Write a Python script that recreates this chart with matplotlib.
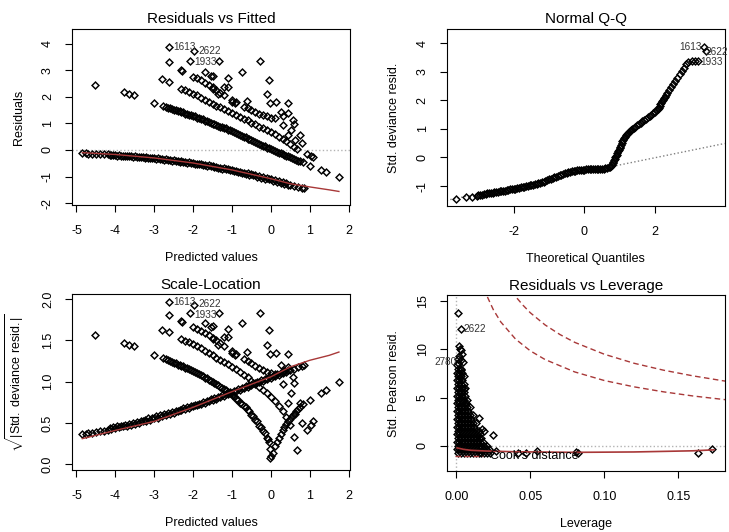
import matplotlib
matplotlib.use('Agg')
import matplotlib.pyplot as plt

plt.rcParams['font.family'] = ['Liberation Sans', 'DejaVu Sans']
plt.rcParams['mathtext.fontset'] = 'custom'
plt.rcParams['mathtext.rm'] = 'Liberation Sans'
plt.rcParams['mathtext.it'] = 'Liberation Sans:italic'
plt.rcParams['mathtext.bf'] = 'Liberation Sans:bold'

# ---------------- Residuals vs Fitted ----------------
rvf_band0 = [(-4.85,-0.13),(-4.75,-0.13),(-4.7,-0.14),(-4.6,-0.14),(-4.5,-0.15),(-4.4,-0.16),(-4.3,-0.16),
             (-4.2,-0.17),(-4.1,-0.18),(-4.0,-0.19),(-3.9,-0.2),(-3.8,-0.21),(-3.7,-0.22),(-3.6,-0.23),
             (-3.5,-0.24),(-3.4,-0.25),(-3.3,-0.27),(-3.2,-0.28),(-3.1,-0.29),(-3.0,-0.31),(-2.9,-0.32),
             (-2.8,-0.34),(-2.7,-0.35),(-2.6,-0.37),(-2.5,-0.39),(-2.4,-0.41),(-2.3,-0.43),(-2.2,-0.45),
             (-2.1,-0.47),(-2.0,-0.49),(-1.9,-0.51),(-1.8,-0.53),(-1.7,-0.56),(-1.6,-0.58),(-1.5,-0.61),
             (-1.4,-0.63),(-1.3,-0.66),(-1.2,-0.69),(-1.1,-0.72),(-1.0,-0.75),(-0.9,-0.78),(-0.8,-0.81),
             (-0.7,-0.85),(-0.6,-0.88),(-0.5,-0.92),(-0.4,-0.95),(-0.3,-0.99),(-0.2,-1.03),(-0.1,-1.07),
             (0.0,-1.1),(0.1,-1.14),(0.2,-1.18),(0.3,-1.22),(0.4,-1.26),(0.5,-1.3),(0.6,-1.34),(0.7,-1.38),
             (0.8,-1.42),(0.85,-1.44)]
rvf_band0b = [(-4.15,-0.19),(-4.05,-0.2),(-3.95,-0.21),(-3.85,-0.22),(-3.75,-0.23),(-3.65,-0.24),(-3.55,-0.25),
              (-3.45,-0.26),(-3.35,-0.28),(-3.25,-0.29),(-3.15,-0.31),(-3.05,-0.32),(-2.95,-0.34),(-2.85,-0.35),
              (-2.75,-0.37),(-2.65,-0.38),(-2.55,-0.4),(-2.45,-0.42),(-2.35,-0.44),(-2.25,-0.46),(-2.15,-0.48),
              (-2.05,-0.5),(-1.95,-0.52),(-1.85,-0.54),(-1.75,-0.57),(-1.65,-0.59),(-1.55,-0.62),(-1.45,-0.64),
              (-1.35,-0.67),(-1.25,-0.7),(-1.15,-0.73),(-1.05,-0.76),(-0.95,-0.79),(-0.85,-0.82),(-0.75,-0.86),
              (-0.65,-0.89),(-0.55,-0.93),(-0.45,-0.96),(-0.35,-1.0),(-0.25,-1.04),(-0.15,-1.08),(-0.05,-1.11),
              (0.05,-1.15),(0.15,-1.19),(0.25,-1.23),(0.35,-1.27),(0.45,-1.31)]
rvf_band1 = [(-2.78,1.65),(-2.7,1.62),(-2.65,1.59),(-2.55,1.55),(-2.45,1.5),(-2.35,1.45),(-2.25,1.41),
             (-2.15,1.36),(-2.05,1.31),(-1.95,1.26),(-1.85,1.2),(-1.75,1.15),(-1.65,1.09),(-1.55,1.03),
             (-1.45,0.98),(-1.35,0.92),(-1.25,0.86),(-1.15,0.81),(-1.05,0.75),(-0.95,0.68),(-0.85,0.61),
             (-0.75,0.54),(-0.65,0.48),(-0.55,0.41),(-0.45,0.34),(-0.35,0.27),(-0.25,0.2),(-0.15,0.14),
             (-0.05,0.07),(0.05,0.0),(0.15,-0.06),(0.25,-0.12),(0.35,-0.18),(0.45,-0.24),(0.55,-0.3),
             (0.65,-0.36),(0.75,-0.41),(0.83,-0.46)]
rvf_band1b = [(-2.6,1.56),(-2.5,1.51),(-2.4,1.46),(-2.3,1.42),(-2.2,1.37),(-2.1,1.32),(-2.0,1.27),(-1.9,1.22),
              (-1.8,1.16),(-1.7,1.1),(-1.6,1.05),(-1.5,0.99),(-1.4,0.94),(-1.3,0.88),(-1.2,0.82),(-1.1,0.76),
              (-1.0,0.7),(-0.9,0.63),(-0.8,0.56),(-0.7,0.5),(-0.6,0.43),(-0.5,0.36),(-0.4,0.29),(-0.3,0.22),
              (-0.2,0.16),(-0.1,0.09),(0.0,0.02),(0.1,-0.04),(0.2,-0.1),(0.3,-0.16),(0.4,-0.22),(0.5,-0.28),
              (0.6,-0.34),(0.7,-0.4)]
rvf_band2 = [(-2.3,2.31),(-2.2,2.24),(-2.1,2.18),(-2.0,2.12),(-1.9,2.05),(-1.8,1.97),(-1.7,1.89),(-1.6,1.81),
             (-1.5,1.74),(-1.4,1.67),(-1.3,1.61),(-1.2,1.54),(-1.1,1.47),(-1.0,1.4),(-0.9,1.33),(-0.8,1.25),
             (-0.7,1.18),(-0.6,1.11),(-0.5,1.03),(-0.4,0.96),(-0.3,0.88),(-0.2,0.81),(-0.1,0.74),(0.0,0.66),
             (0.1,0.59),(0.2,0.5),(0.3,0.42),(0.4,0.33),(0.5,0.23),(0.6,0.11),(0.66,0.03)]
rvf_band3 = [(-2.32,3.01),(-2.28,2.98),(-2.0,2.76),(-1.9,2.7),(-1.8,2.62),(-1.7,2.53),(-1.6,2.44),(-1.5,2.35),
             (-1.4,2.25),(-1.3,2.16),(-1.2,2.07),(-1.0,1.89),(-0.9,1.8),(-0.7,1.63),(-0.6,1.56),(-0.5,1.5),
             (-0.4,1.43),(-0.3,1.37),(-0.2,1.31),(-0.1,1.26),(0.0,1.22),(0.1,1.19)]
rvf_other = [(-4.53,2.45),(-3.78,2.17),(-3.65,2.1),(-3.53,2.07),(-3.0,1.77),(-2.62,3.89),(-1.97,3.72),
             (-2.08,3.34),(-2.62,3.29),(-2.79,2.66),(-2.62,2.56),(-1.69,2.94),(-1.5,2.79),(-1.55,2.78),
             (-1.33,3.35),(-0.28,3.35),(-0.75,2.94),(-1.09,2.69),(-1.2,2.38),(-1.35,2.1),(-1.48,2.31),
             (-1.11,2.37),(-0.05,2.64),(-0.11,2.1),(-0.03,1.78),(0.14,1.81),(0.44,1.78),(-0.62,1.85),
             (-0.99,1.81),(-0.92,1.76),(0.27,1.44),(0.44,1.4),(0.32,1.27),(0.57,1.12),(0.6,0.97),(0.32,0.94),
             (0.74,0.56),(0.53,0.75),(0.44,0.56),(0.62,0.37),(0.79,0.25),(0.92,-0.17),(1.04,-0.22),
             (1.08,-0.25),(1.0,-0.6),(1.3,-0.75),(1.43,-0.81),(1.75,-1.0)]
rvf_smooth_x = [-4.85, -4.0, -3.0, -2.0, -1.0, 0.0, 0.5, 1.0, 1.5, 1.75]
rvf_smooth_y = [-0.1, -0.17, -0.3, -0.49, -0.75, -1.08, -1.27, -1.39, -1.5, -1.56]
rvf_labels = [("1613", -2.62, 3.89), ("2622", -1.97, 3.74), ("1933", -2.08, 3.32)]

# ---------------- Normal Q-Q ----------------
qq_points = [(-3.65,-1.46),(-3.34,-1.39),(-3.19,-1.38),(-3.05,-1.35),(-2.95,-1.31),(-2.85,-1.28),(-2.75,-1.26),
             (-2.65,-1.24),(-2.55,-1.22),(-2.45,-1.2),(-2.35,-1.18),(-2.25,-1.16),(-2.15,-1.13),(-2.05,-1.11),
             (-1.95,-1.09),(-1.85,-1.06),(-1.75,-1.04),(-1.65,-1.01),(-1.55,-0.98),(-1.45,-0.95),(-1.35,-0.92),
             (-1.25,-0.89),(-1.15,-0.85),(-1.05,-0.79),(-0.95,-0.74),(-0.85,-0.69),(-0.75,-0.65),(-0.65,-0.6),
             (-0.55,-0.56),(-0.45,-0.52),(-0.35,-0.49),(-0.25,-0.46),(-0.15,-0.44),(-0.05,-0.43),(0.05,-0.42),
             (0.15,-0.41),(0.25,-0.41),(0.35,-0.4),(0.45,-0.4),(0.55,-0.39),(0.65,-0.37),(0.72,-0.32),
             (0.78,-0.25),(0.82,-0.16),(0.86,-0.05),(0.9,0.05),(0.94,0.16),(0.98,0.27),(1.02,0.38),(1.06,0.5),
             (1.1,0.62),(1.15,0.73),(1.2,0.82),(1.26,0.9),(1.32,0.95),(1.4,1.02),(1.5,1.12),(1.6,1.21),
             (1.7,1.31),(1.8,1.41),(1.9,1.5),(2.0,1.6),(2.08,1.7),(2.14,1.8),(2.18,1.92),(2.22,2.02),
             (2.28,2.12),(2.34,2.25),(2.4,2.36),(2.46,2.46),(2.52,2.57),(2.58,2.68),(2.64,2.79),(2.7,2.91),
             (2.76,3.02),(2.82,3.14),(2.88,3.26),(2.94,3.36),(3.04,3.37),(3.13,3.37),(3.23,3.37),
             (3.39,3.86),(3.45,3.74)]
qq_points_b = [(-3.0,-1.33),(-2.9,-1.3),(-2.8,-1.27),(-2.7,-1.25),(-2.6,-1.23),(-2.5,-1.21),(-2.4,-1.19),
               (-2.3,-1.17),(-2.2,-1.15),(-2.1,-1.12),(-2.0,-1.1),(-1.9,-1.08),(-1.8,-1.05),(-1.7,-1.03),
               (-1.6,-1.0),(-1.5,-0.97),(-1.4,-0.94),(-1.3,-0.91),(-1.2,-0.87),(-1.1,-0.82),(-1.0,-0.77),
               (-0.9,-0.72),(-0.8,-0.67),(-0.7,-0.63),(-0.6,-0.58),(-0.5,-0.54),(-0.4,-0.5),(-0.3,-0.48),
               (-0.2,-0.45),(-0.1,-0.44),(0.0,-0.43),(0.1,-0.42),(0.2,-0.41),(0.3,-0.41),(0.4,-0.4),(0.5,-0.4),
               (0.6,-0.38),(0.69,-0.35),(0.75,-0.29),(0.8,-0.2),(0.84,-0.1),(0.88,0.0),(0.92,0.1),(0.96,0.22),
               (1.0,0.33),(1.04,0.44),(1.08,0.56),(1.12,0.68),(1.18,0.78),(1.23,0.86),(1.29,0.93),(1.36,0.98),
               (1.45,1.07),(1.55,1.16),(1.65,1.26),(1.75,1.36),(1.85,1.45),(1.95,1.55),(2.04,1.65),(2.11,1.75),
               (2.16,1.86),(2.2,1.97),(2.25,2.07),(2.31,2.18)]
qq_line_x = [-3.9, 3.98]
qq_line_y = [-1.5, 0.49]

# ---------------- Scale-Location ----------------
sl_band0 = [(-4.85,0.361),(-4.75,0.361),(-4.7,0.374),(-4.6,0.374),(-4.5,0.387),(-4.4,0.4),(-4.3,0.4),
            (-4.2,0.412),(-4.1,0.424),(-4.0,0.436),(-3.9,0.447),(-3.8,0.458),(-3.7,0.469),(-3.6,0.48),
            (-3.5,0.49),(-3.4,0.5),(-3.3,0.52),(-3.2,0.529),(-3.1,0.539),(-3.0,0.557),(-2.9,0.566),
            (-2.8,0.583),(-2.7,0.592),(-2.6,0.608),(-2.5,0.624),(-2.4,0.64),(-2.3,0.656),(-2.2,0.671),
            (-2.1,0.686),(-2.0,0.7),(-1.9,0.714),(-1.8,0.728),(-1.7,0.748),(-1.6,0.762),(-1.5,0.781),
            (-1.4,0.794),(-1.3,0.812),(-1.2,0.831),(-1.1,0.849),(-1.0,0.866),(-0.9,0.883),(-0.8,0.9),
            (-0.7,0.922),(-0.6,0.938),(-0.5,0.959),(-0.4,0.975),(-0.3,0.995),(-0.2,1.015),(-0.1,1.034),
            (0.0,1.049),(0.1,1.068),(0.2,1.086),(0.3,1.105),(0.4,1.122),(0.5,1.14),(0.6,1.158),
            (0.7,1.175),(0.8,1.192),(0.85,1.2)]
sl_band0b = [(-4.15,0.436),(-4.05,0.447),(-3.95,0.458),(-3.85,0.469),(-3.75,0.48),(-3.65,0.49),(-3.55,0.5),
             (-3.45,0.51),(-3.35,0.529),(-3.25,0.539),(-3.15,0.557),(-3.05,0.566),(-2.95,0.583),(-2.85,0.592),
             (-2.75,0.608),(-2.65,0.616),(-2.55,0.632),(-2.45,0.648),(-2.35,0.663),(-2.25,0.678),(-2.15,0.693),
             (-2.05,0.707),(-1.95,0.721),(-1.85,0.735),(-1.75,0.755),(-1.65,0.768),(-1.55,0.787),(-1.45,0.8),
             (-1.35,0.819),(-1.25,0.837),(-1.15,0.854),(-1.05,0.872),(-0.95,0.889),(-0.85,0.906),(-0.75,0.927),
             (-0.65,0.943),(-0.55,0.964),(-0.45,0.98),(-0.35,1.0),(-0.25,1.02),(-0.15,1.039),(-0.05,1.054),
             (0.05,1.072),(0.15,1.091),(0.25,1.109),(0.35,1.127),(0.45,1.145)]
sl_band1 = [(-2.78,1.285),(-2.7,1.273),(-2.65,1.261),(-2.55,1.245),(-2.45,1.225),(-2.35,1.204),(-2.25,1.187),
            (-2.15,1.166),(-2.05,1.145),(-1.95,1.122),(-1.85,1.095),(-1.75,1.072),(-1.65,1.044),(-1.55,1.015),
            (-1.45,0.99),(-1.35,0.959),(-1.25,0.927),(-1.15,0.9),(-1.05,0.866),(-0.95,0.825),(-0.85,0.781),
            (-0.75,0.735),(-0.65,0.693),(-0.55,0.64),(-0.45,0.583),(-0.35,0.52),(-0.25,0.447),(-0.15,0.374),
            (-0.1,0.32),(-0.05,0.265),(-0.02,0.18),(-0.03,0.07),(0.0,0.1),(0.05,0.14),(0.1,0.22),(0.15,0.27),
            (0.25,0.37),(0.35,0.45),(0.45,0.52),(0.55,0.58),(0.65,0.64),(0.75,0.69),(0.83,0.73)]
sl_band1b = [(-2.6,1.249),(-2.5,1.229),(-2.4,1.208),(-2.3,1.192),(-2.2,1.17),(-2.1,1.149),(-2.0,1.127),
             (-1.9,1.105),(-1.8,1.077),(-1.7,1.049),(-1.6,1.025),(-1.5,0.995),(-1.4,0.97),(-1.3,0.938),
             (-1.2,0.906),(-1.1,0.872),(-1.0,0.837),(-0.9,0.794),(-0.8,0.748),(-0.7,0.707),(-0.6,0.656),
             (-0.5,0.6),(-0.4,0.539),(-0.3,0.469),(-0.2,0.4),(-0.08,0.3),(0.2,0.32),(0.3,0.41),(0.4,0.49),
             (0.5,0.55),(0.6,0.61),(0.7,0.67)]
sl_band2 = [(-2.3,1.52),(-2.2,1.497),(-2.1,1.476),(-2.0,1.456),(-1.9,1.432),(-1.8,1.404),(-1.7,1.375),
            (-1.6,1.345),(-1.5,1.319),(-1.4,1.292),(-1.3,1.269),(-1.2,1.241),(-1.1,1.212),(-1.0,1.183),
            (-0.9,1.153),(-0.8,1.118),(-0.7,1.086),(-0.6,1.054),(-0.5,1.015),(-0.4,0.98),(-0.3,0.938),
            (-0.2,0.9),(-0.1,0.86),(0.0,0.812),(0.1,0.768),(0.2,0.707),(0.3,0.648),(0.4,0.574),(0.5,0.48),
            (0.6,0.332),(0.66,0.173)]
sl_band3 = [(-2.32,1.735),(-2.28,1.726),(-2.0,1.661),(-1.9,1.643),(-1.8,1.619),(-1.7,1.591),(-1.6,1.562),
            (-1.5,1.533),(-1.4,1.5),(-1.3,1.47),(-1.2,1.439),(-1.0,1.375),(-0.9,1.342),(-0.7,1.277),
            (-0.6,1.249),(-0.5,1.225),(-0.4,1.196),(-0.3,1.17),(-0.2,1.145),(-0.1,1.122),(0.0,1.105),(0.1,1.091)]
sl_other = [(-4.53,1.565),(-3.78,1.473),(-3.65,1.449),(-3.53,1.439),(-3.0,1.33),(-2.62,1.972),(-1.97,1.929),
            (-2.08,1.828),(-2.62,1.814),(-2.79,1.631),(-2.62,1.6),(-1.69,1.715),(-1.5,1.67),(-1.55,1.667),
            (-1.33,1.83),(-0.28,1.83),(-0.75,1.715),(-1.09,1.64),(-1.2,1.543),(-1.35,1.449),(-1.48,1.52),
            (-1.11,1.54),(-0.05,1.625),(-0.11,1.449),(-0.03,1.334),(0.14,1.345),(0.44,1.334),(-0.62,1.36),
            (-0.99,1.345),(-0.92,1.327),(0.27,1.2),(0.44,1.183),(0.32,1.127),(0.57,1.058),(0.6,0.985),
            (0.32,0.97),(0.74,0.748),(0.53,0.866),(0.44,0.748),(0.62,0.608),(0.79,0.5),(0.92,0.42),
            (1.04,0.48),(1.08,0.52),(1.0,0.775),(1.3,0.866),(1.43,0.9),(1.75,1.0)]
sl_smooth_x = [-4.85, -4.0, -3.0, -2.0, -1.0, 0.0, 0.5, 1.0, 1.5, 1.75]
sl_smooth_y = [0.31, 0.41, 0.52, 0.69, 0.88, 1.06, 1.18, 1.26, 1.32, 1.36]
sl_labels = [("1613", -2.62, 1.972), ("2622", -1.97, 1.945), ("1933", -2.08, 1.81)]

# ---------------- Residuals vs Leverage ----------------
lev_rows = [
    (8.0, [0.001, 0.003]),
    (7.6, [0.0005, 0.002, 0.004]),
    (7.2, [0.001, 0.003, 0.005]),
    (6.8, [0.0005, 0.002, 0.004]),
    (6.4, [0.001, 0.003, 0.005]),
    (6.0, [0.0005, 0.002, 0.004, 0.006]),
    (5.6, [0.001, 0.003, 0.005]),
    (5.2, [0.0005, 0.002, 0.004, 0.006]),
    (4.8, [0.001, 0.003, 0.005, 0.007]),
    (4.4, [0.0005, 0.002, 0.004, 0.006]),
    (4.0, [0.001, 0.003, 0.005, 0.007, 0.009]),
    (3.6, [0.0005, 0.002, 0.004, 0.006, 0.008]),
    (3.2, [0.001, 0.003, 0.005, 0.007, 0.009, 0.011]),
    (2.8, [0.0005, 0.002, 0.004, 0.006, 0.008, 0.010]),
    (2.4, [0.001, 0.003, 0.005, 0.007, 0.009, 0.011, 0.013]),
    (2.0, [0.0005, 0.002, 0.004, 0.006, 0.008, 0.010, 0.012]),
    (1.6, [0.001, 0.003, 0.005, 0.007, 0.009, 0.011, 0.013, 0.015]),
    (1.2, [0.0005, 0.002, 0.004, 0.006, 0.008, 0.010, 0.012, 0.014, 0.016]),
    (0.8, [0.001, 0.003, 0.005, 0.007, 0.009, 0.011, 0.013, 0.015, 0.017]),
    (0.4, [0.0005, 0.002, 0.004, 0.006, 0.008, 0.010, 0.012, 0.014, 0.016, 0.018]),
    (0.0, [0.001, 0.003, 0.005, 0.007, 0.009, 0.011, 0.013, 0.015, 0.017, 0.019, 0.021]),
    (-0.35, [0.0005, 0.002, 0.004, 0.006, 0.008, 0.010, 0.012, 0.014, 0.016, 0.018, 0.020, 0.022]),
    (-0.7, [0.001, 0.003, 0.005, 0.007, 0.009, 0.011, 0.013, 0.015, 0.017, 0.019, 0.021, 0.023]),
]
lev_other = [(0.0011,13.8),(0.003,12.13),(0.0015,10.3),(0.0025,10.0),(0.0032,9.9),(0.004,9.5),(0.0045,8.7),
             (0.001,9.0),(0.0011,8.6),(0.002,9.3),(0.003,8.9),(0.0005,8.4),(0.0032,7.86),(0.0054,5.86),
             (0.0063,4.48),(0.0153,2.93),(0.0176,1.8),(0.019,1.5),(0.025,1.14),(0.027,-0.52),(0.0415,-0.69),
             (0.047,-0.75),(0.0547,-0.52),(0.081,-0.6),(0.082,-0.68),(0.1635,-0.7),(0.173,-0.36)]
lev_smooth_x = [0.0005, 0.005, 0.01, 0.02, 0.04, 0.08, 0.12, 0.16, 0.174]
lev_smooth_y = [-0.2, -0.35, -0.45, -0.52, -0.6, -0.66, -0.62, -0.5, -0.4]
cook1_h = [0.021, 0.025, 0.03, 0.04, 0.05, 0.06, 0.08, 0.1, 0.12, 0.14, 0.16, 0.18, 0.185]
cook1_r = [15.42, 14.1, 12.84, 11.06, 9.84, 8.94, 7.66, 6.77, 6.12, 5.6, 5.17, 4.82, 4.74]
cook2_h = [0.041, 0.045, 0.05, 0.06, 0.07, 0.08, 0.1, 0.12, 0.14, 0.16, 0.18, 0.185]
cook2_r = [15.29, 14.57, 13.78, 12.52, 11.53, 10.72, 9.49, 8.56, 7.84, 7.25, 6.75, 6.64]

# ---------------- drawing ----------------
W, H = 729, 532
fig = plt.figure(figsize=(W / 100, H / 100), dpi=100)

def box(l, t, r, b):
    return [l / W, 1 - b / H, (r - l) / W, (b - t) / H]

ax1 = fig.add_axes(box(72, 29, 350, 205))
ax2 = fig.add_axes(box(446.7, 29, 724.7, 206))
ax3 = fig.add_axes(box(72, 294.3, 350, 470))
ax4 = fig.add_axes(box(446.7, 295.3, 724.7, 471))

MK = dict(linestyle='none', marker='D', ms=3.5, mfc='none', mec='black', mew=1.05)
RED = '#a83838'
FS = 9
LFS = 7.2

def scatter(ax, pts):
    xs = [p[0] for p in pts]
    ys = [p[1] for p in pts]
    ax.plot(xs, ys, **MK)

def style(ax, title, xlabel, ylabel, xt, yt, xtl, ytl, ylab_x=-0.19):
    ax.set_xticks(xt)
    ax.set_xticklabels(xtl)
    ax.set_yticks(yt)
    ax.set_yticklabels(ytl)
    ax.tick_params(direction='out', length=5, width=0.8, labelsize=FS,
                   top=False, right=False, colors='black')
    ax.tick_params(axis='x', pad=9.5)
    ax.tick_params(axis='y', pad=8, labelrotation=90)
    for lab in ax.get_yticklabels():
        lab.set_va('center')
    for s in ax.spines.values():
        s.set_linewidth(0.8)
    ax.set_title(title, fontsize=11, pad=4)
    ax.set_xlabel(xlabel, fontsize=FS, va='center')
    ax.set_ylabel(ylabel, fontsize=FS, va='center')
    ax.xaxis.set_label_coords(0.5, -0.30)
    ax.yaxis.set_label_coords(ylab_x, 0.5)

# Panel 1
ax1.axhline(0, color='0.7', ls=':', lw=1)
for band in (rvf_band0, rvf_band0b, rvf_band1, rvf_band1b, rvf_band2, rvf_band3, rvf_other):
    scatter(ax1, band)
ax1.plot(rvf_smooth_x, rvf_smooth_y, color=RED, lw=1)
for lab, x, y in rvf_labels:
    ax1.text(x + 0.1, y, lab, fontsize=LFS, va='center', ha='left', color='#333333')
ax1.set_xlim(-5.115, 2.035)
ax1.set_ylim(-2.07, 4.55)
style(ax1, 'Residuals vs Fitted', 'Predicted values', 'Residuals',
      [-5, -4, -3, -2, -1, 0, 1, 2], [-2, -1, 0, 1, 2, 3, 4],
      ['-5', '-4', '-3', '-2', '-1', '0', '1', '2'], ['-2', '-1', '0', '1', '2', '3', '4'])

# Panel 2
ax2.plot(qq_line_x, qq_line_y, color='0.5', ls=':', lw=1)
scatter(ax2, qq_points)
scatter(ax2, qq_points_b)
ax2.text(3.33, 3.88, '1613', fontsize=LFS, va='center', ha='right', color='#333333', clip_on=False)
ax2.text(3.43, 3.68, '2622', fontsize=LFS, va='center', ha='left', color='#333333', clip_on=False)
ax2.text(3.3, 3.35, '1933', fontsize=LFS, va='center', ha='left', color='#333333', clip_on=False)
ax2.set_xlim(-3.9, 3.98)
ax2.set_ylim(-1.70, 4.5)
style(ax2, 'Normal Q-Q', 'Theoretical Quantiles', 'Std. deviance resid.',
      [-2, 0, 2], [-1, 0, 1, 2, 3, 4], ['-2', '0', '2'], ['-1', '0', '1', '2', '3', '4'])

# Panel 3
for band in (sl_band0, sl_band0b, sl_band1, sl_band1b, sl_band2, sl_band3, sl_other):
    scatter(ax3, band)
ax3.plot(sl_smooth_x, sl_smooth_y, color=RED, lw=1)
for lab, x, y in sl_labels:
    ax3.text(x + 0.1, y, lab, fontsize=LFS, va='center', ha='left', color='#333333')
ax3.set_xlim(-5.115, 2.035)
ax3.set_ylim(-0.07, 2.06)
style(ax3, 'Scale-Location', 'Predicted values',
      r'$\sqrt{|\mathrm{Std.\ deviance\ resid.}|}$',
      [-5, -4, -3, -2, -1, 0, 1, 2], [0.0, 0.5, 1.0, 1.5, 2.0],
      ['-5', '-4', '-3', '-2', '-1', '0', '1', '2'], ['0.0', '0.5', '1.0', '1.5', '2.0'],
      ylab_x=-0.205)

# Panel 4
ax4.axhline(0, color='0.7', ls=':', lw=1)
ax4.axvline(0, color='0.7', ls=':', lw=1)
lev_pts = [(x, y) for y, xs in lev_rows for x in xs]
scatter(ax4, lev_pts)
scatter(ax4, lev_other)
ax4.plot(lev_smooth_x, lev_smooth_y, color=RED, lw=1.2)
ax4.plot(cook1_h, cook1_r, color=RED, lw=1, dashes=(4, 2.5))
ax4.plot(cook2_h, cook2_r, color=RED, lw=1, dashes=(4, 2.5))
ax4.text(0.0045, 12.13, '2622', fontsize=LFS, va='center', ha='left', color='#333333')
ax4.text(0.0, 8.7, '2780', fontsize=LFS, va='center', ha='right', color='#333333', clip_on=False)
ax4.plot([0.03, 0.13], [0.085, 0.085], transform=ax4.transAxes, color=RED, lw=1, dashes=(4, 2.5))
ax4.text(0.155, 0.085, "Cook's distance", transform=ax4.transAxes, fontsize=FS, va='center', ha='left')
ax4.set_xlim(-0.0065, 0.1813)
ax4.set_ylim(-2.59, 15.59)
style(ax4, 'Residuals vs Leverage', 'Leverage', 'Std. Pearson resid.',
      [0.0, 0.05, 0.10, 0.15], [0, 5, 10, 15], ['0.00', '0.05', '0.10', '0.15'], ['0', '5', '10', '15'])

fig.savefig('out.png', dpi=100)
